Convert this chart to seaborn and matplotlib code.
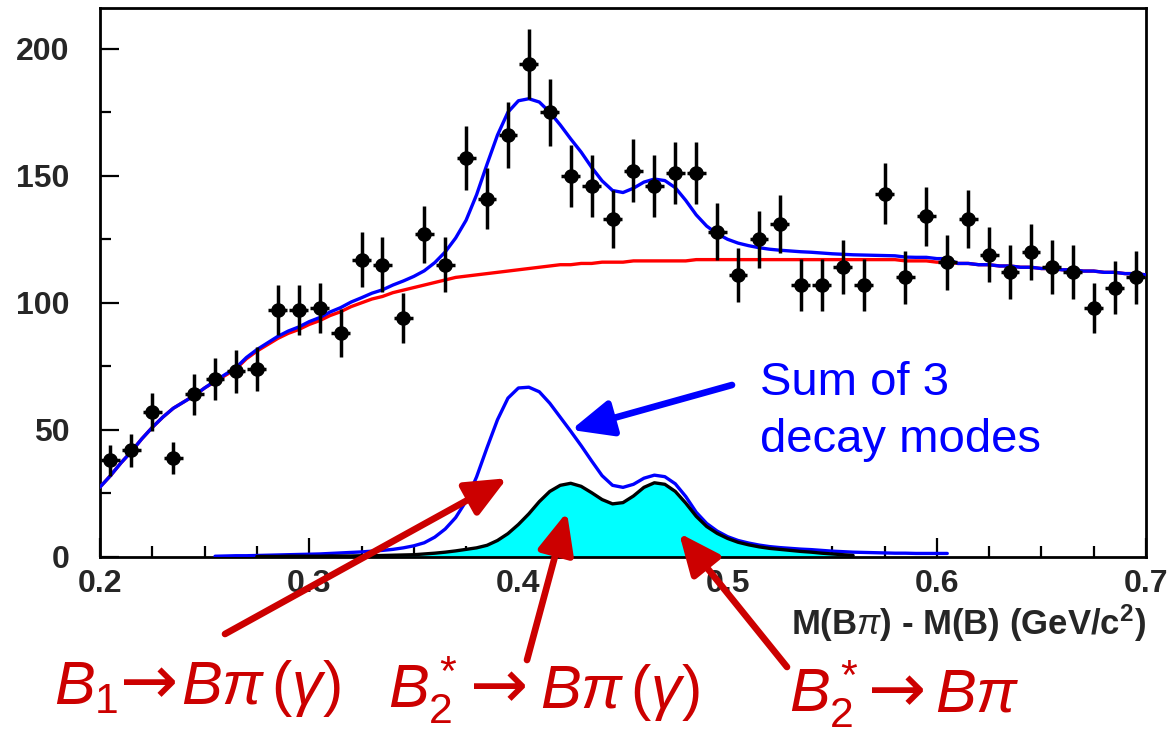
import numpy as np
import matplotlib
matplotlib.use("Agg")
import matplotlib.pyplot as plt
from matplotlib.ticker import MultipleLocator
import seaborn as sns

# ---- measured spectrum: M(Bpi) - M(B), 10 MeV bins ----
bin_centers = np.round(np.arange(0.205, 0.700, 0.010), 3)
counts = [38, 42, 57, 39, 64, 70, 73, 74, 97, 97,
          98, 88, 117, 115, 94, 127, 115, 157, 141, 166,
          194, 175, 150, 146, 133, 152, 146, 151, 151, 128,
          111, 125, 131, 107, 107, 114, 107, 143, 110, 134,
          116, 133, 119, 112, 120, 114, 112, 98, 106, 110]

# ---- fit components sampled every 5 MeV ----
mass_grid = np.round(np.arange(0.200, 0.7001, 0.005), 3)

background = [27.5, 32, 37, 41.5, 46.5, 51, 55, 58.5, 61, 63.5,
              66.5, 69, 71.5, 74, 78, 81, 83.5, 86, 88, 89.5,
              91.5, 93, 95, 96.5, 98.5, 100, 101.5, 102.5, 104, 105,
              106, 107, 108, 109, 110, 110.5, 111, 111.5, 112, 112.5,
              113, 113.5, 114, 114.5, 115, 115, 115.5, 115.5, 116, 116,
              116, 116.5, 116.5, 116.5, 116.5, 116.5, 116.5, 117, 117, 117,
              117, 117, 117, 117, 117, 117, 117, 117, 117, 117,
              117, 117, 117, 117, 117, 117, 117, 116.5, 116.5, 116.5,
              116, 116, 115.5, 115.5, 115, 115, 114.5, 114.5, 114, 114,
              113.5, 113.5, 113, 113, 112.5, 112.5, 112, 112, 111.5, 111.5,
              111]

# sum of the three decay modes, 0.255 .. 0.605
signal_start, signal_stop = 11, 82
signal_sum = [0.3, 0.4, 0.5, 0.5, 0.6, 0.7, 0.8, 0.9, 1.0, 1.1,
              1.2, 1.4, 1.6, 1.8, 2.0, 2.3, 2.6, 3.0, 3.6, 4.4,
              5.6, 7.8, 11.0, 15.5, 22.0, 31.5, 43.0, 54.0, 62.5, 66.5,
              66.8, 65.0, 60.5, 55.0, 49.5, 43.8, 37.8, 32.0, 28.2, 27.4,
              28.6, 31.0, 32.2, 31.6, 28.8, 23.8, 17.6, 13.2, 10.2, 8.0,
              6.5, 5.5, 4.7, 4.1, 3.7, 3.4, 3.1, 2.9, 2.6, 2.3,
              2.1, 1.9, 1.8, 1.7, 1.6, 1.5, 1.5, 1.4, 1.4, 1.4,
              1.4]

# B2* contributions (shaded), 0.275 .. 0.560
b2star_start, b2star_stop = 15, 73
b2star = [0.2, 0.2, 0.2, 0.3, 0.3, 0.3, 0.3, 0.4, 0.4, 0.4,
          0.5, 0.5, 0.6, 0.7, 0.8, 0.9, 1.2, 1.5, 1.9, 2.4,
          3.0, 3.6, 4.6, 6.5, 9.2, 12.8, 17.0, 21.8, 25.8, 28.2,
          29.0, 27.8, 25.3, 22.6, 20.9, 21.4, 24.0, 27.4, 29.2, 28.6,
          25.8, 21.2, 16.0, 12.0, 9.3, 7.3, 5.8, 4.8, 4.0, 3.4,
          3.0, 2.6, 2.2, 1.9, 1.5, 1.2, 0.9, 0.6]

x_ticks = [0.2, 0.3, 0.4, 0.5, 0.6, 0.7]
x_ticklabels = ["0.2", "0.3", "0.4", "0.5", "0.6", "0.7"]
y_ticks = [0, 50, 100, 150, 200]
y_ticklabels = ["0", "50", "100", "150", "200"]

# ---- style ----
sns.set_theme(style="ticks")
plt.rcParams["font.family"] = ["Liberation Sans", "DejaVu Sans"]
plt.rcParams["mathtext.fontset"] = "custom"
plt.rcParams["mathtext.rm"] = "Liberation Sans"
plt.rcParams["mathtext.it"] = "Liberation Sans:italic"
plt.rcParams["mathtext.bf"] = "Liberation Sans:bold"

W, H = 1174, 733
fig = plt.figure(figsize=(W / 100, H / 100), dpi=100)
ax = fig.add_axes([100 / W, (H - 557) / H, 1046 / W, 549 / H])

signal_sum_full = np.zeros(len(mass_grid))
signal_sum_full[signal_start:signal_stop] = signal_sum
total = np.asarray(background) + signal_sum_full

sig_x = mass_grid[signal_start:signal_stop]
b2_x = mass_grid[b2star_start:b2star_stop]

# background and total fit
sns.lineplot(x=mass_grid, y=background, color="#ff0000", lw=2.4,
             estimator=None, sort=False, ax=ax, zorder=3)
sns.lineplot(x=mass_grid, y=total, color="#0000ff", lw=2.4,
             estimator=None, sort=False, ax=ax, zorder=4)

# signal components
ax.fill_between(b2_x, 0, b2star, color="#00ffff", lw=0, zorder=2)
sns.lineplot(x=sig_x, y=signal_sum, color="#0000ff", lw=2.4,
             estimator=None, sort=False, ax=ax, zorder=3)
sns.lineplot(x=b2_x, y=b2star, color="black", lw=2.4,
             estimator=None, sort=False, ax=ax, zorder=3)

# data with Poisson errors
ax.errorbar(bin_centers, counts, yerr=np.sqrt(counts), xerr=0.0045,
            fmt="o", color="black", ms=9.5, elinewidth=2.5, capsize=0, zorder=6)

ax.set_xlim(0.2, 0.7)
ax.set_ylim(0, 216)
ax.set_xticks(x_ticks, x_ticklabels, fontsize=23, fontweight="bold")
ax.set_yticks(y_ticks, y_ticklabels, fontsize=23, fontweight="bold")
ax.xaxis.set_minor_locator(MultipleLocator(0.025))
ax.yaxis.set_minor_locator(MultipleLocator(25))
ax.tick_params(which="both", direction="in", top=False, right=False,
               color="black", width=1.6)
ax.tick_params(which="major", length=14)
ax.tick_params(which="minor", length=8)
ax.tick_params(axis="x", which="major", pad=9)
ax.tick_params(axis="y", which="major", pad=22)
for side in ["left", "right", "top", "bottom"]:
    ax.spines[side].set_visible(True)
    ax.spines[side].set_linewidth(2.0)
    ax.spines[side].set_color("black")
ax.set_ylabel("")
ax.set_xlabel(r"M(B$\pi$) - M(B) (GeV/c$^{\mathbf{2}}$)", fontsize=25,
              fontweight="bold", loc="right")
ax.xaxis.set_label_coords(1.0, -0.083)

# ---- annotations ----
red = "#cc0000"
blue = "#0000ff"

def pointer(tip, tail_px, color):
    ax.annotate("", xy=tip, xycoords="data",
                xytext=(tail_px[0], H - tail_px[1]), textcoords="figure pixels",
                annotation_clip=False,
                arrowprops=dict(arrowstyle="-|>,head_length=25,head_width=11",
                                mutation_scale=1, lw=4.8, color=color,
                                shrinkA=0, shrinkB=0), zorder=10)

pointer((0.4252, 50.0), (732, 385), blue)
pointer((0.3946, 31.0), (225, 634), red)
pointer((0.4232, 17.7), (527, 660), red)
pointer((0.4768, 9.4), (787, 667), red)

fig.text(760 / W, (H - 395) / H, "Sum of 3", color=blue, fontsize=34,
         ha="left", va="baseline")
fig.text(760 / W, (H - 452) / H, "decay modes", color=blue, fontsize=34,
         ha="left", va="baseline")

# decay labels, laid out piece by piece so the arrow can use its own font
renderer = fig.canvas.get_renderer()
arrow_style = dict(fontsize=50, family="DejaVu Sans")
text_style = dict(fontsize=44)


def decay_label(x_px, base_px, pieces, gap):
    x = x_px
    for txt, style in pieces:
        t = fig.text(x / W, (H - base_px) / H, txt, color=red,
                     ha="left", va="baseline", **style)
        x = t.get_window_extent(renderer).x1 + gap


decay_label(54, 704, [(r"$B_1$", text_style), ("→", arrow_style),
                      (r"$B\pi\,(\gamma)$", text_style)], 2)
decay_label(388, 708, [(r"$B_2^*$", text_style), ("→", arrow_style),
                       (r"$B\pi\,(\gamma)$", text_style)], 12)
decay_label(789, 712, [(r"$B_2^*$", text_style), ("→", arrow_style),
                       (r"$B\pi$", text_style)], 9)

fig.savefig("out.png", dpi=100)
